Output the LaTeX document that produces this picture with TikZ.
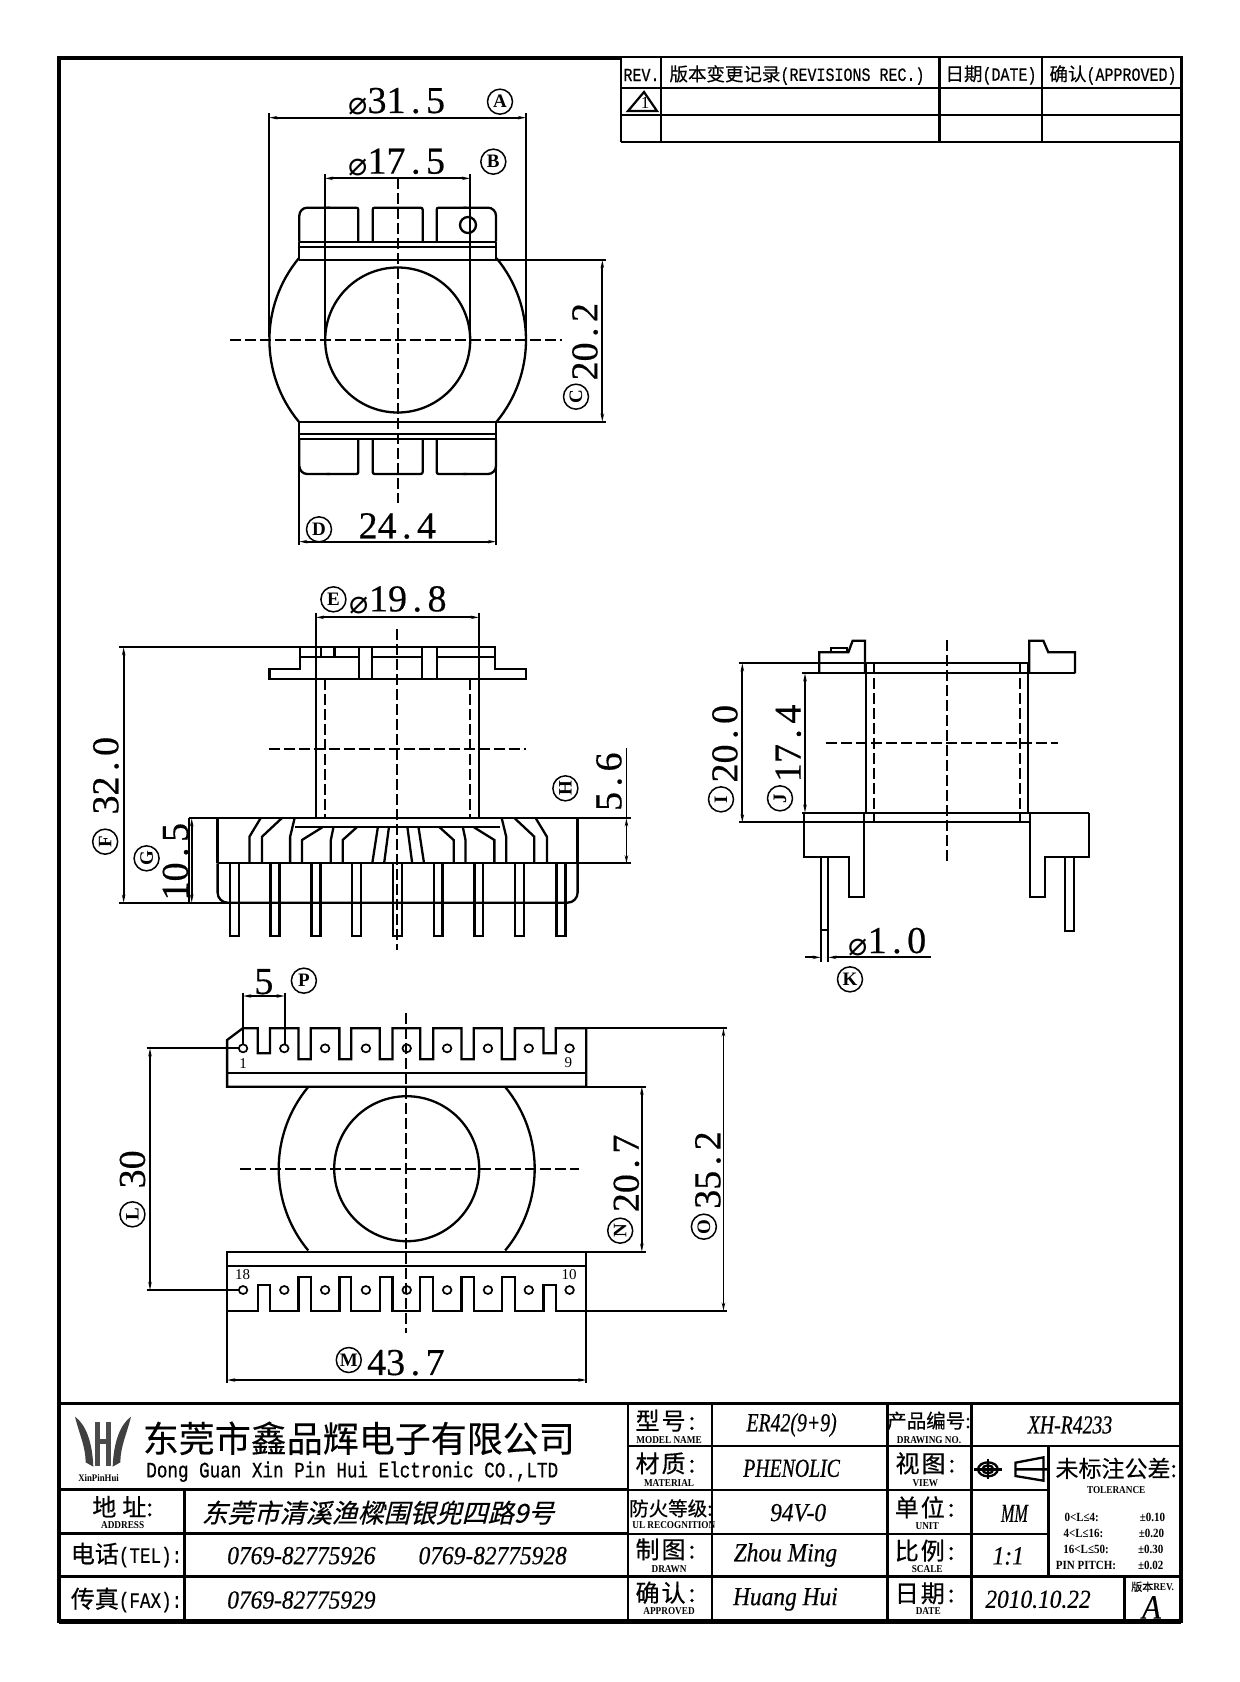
\documentclass[tikz,border=0pt]{standalone}
\usepackage{fontspec}
\usetikzlibrary{arrows.meta}
\setmainfont{Liberation Serif}
\newfontfamily\cjk[FakeBold=0.25]{Noto Sans CJK SC}
\newfontfamily\cjkb[FakeBold=0.5]{Noto Sans CJK SC}
\newfontfamily\cjks[FakeSlant=0.25,FakeBold=0.4]{Noto Sans CJK SC}
\newfontfamily\monof[FakeStretch=0.8,FakeBold=0.5]{Liberation Mono}
\newfontfamily\itf[FakeStretch=0.9,FakeBold=0.4,Ligatures=NoCommon]{Liberation Serif Italic}
\newfontfamily\itn[FakeStretch=0.76,FakeBold=0.5,Ligatures=NoCommon]{Liberation Serif Italic}
\newfontfamily\itm[FakeStretch=0.62,FakeBold=0.5,Ligatures=NoCommon]{Liberation Serif Italic}
\newfontfamily\smf[FakeStretch=0.88]{Liberation Serif Bold}
\newfontfamily\dimf[FakeBold=0.4]{Liberation Serif}
\newfontfamily\djf{DejaVu Sans}
\newcommand\fsz[1]{\fontsize{#1}{#1}\selectfont}
\newcommand\dt{\kern5.5pt.\kern5.5pt}
\newcommand\dia{{\djf\fsz{32}\raisebox{-2pt}{⌀}}}
\tikzset{
 ol/.style={line width=2.3pt},
 dl/.style={line width=1.7pt},
 dimline/.style={dl,{Stealth[length=8pt,width=3.4pt]}-{Stealth[length=8pt,width=3.4pt]}},
 cline/.style={line width=2pt,dash pattern=on 11pt off 4pt},
 dimtxt/.style={inner sep=0pt,font=\dimf\fsz{38}},
 circ/.style={circle,draw,line width=1.5pt,inner sep=0pt,minimum size=25pt,font=\fsz{19}\bfseries},
 tb/.style={line width=2.6pt},
 big/.style={inner sep=0pt,font=\cjkb\fsz{24}},
 sm/.style={inner sep=0pt,font=\smf\fsz{10.5}},
 val/.style={inner sep=0pt,font=\itf\fsz{26}},
 valn/.style={inner sep=0pt,font=\itn\fsz{26}},
 tol/.style={inner sep=0pt,font=\smf\fsz{12.5}},
}
\begin{document}
\begin{tikzpicture}[x=1pt,y=-1pt]
\fill[white] (0,0) rectangle (1240,1682);
\useasboundingbox (0,0) rectangle (1240,1682);
% frame
\draw[line width=3.4pt] (59,58) rectangle (1181,1621);
\draw[line width=5pt] (59,1621) -- (1181,1621);
% revision table
\fill[white] (621,56) rectangle (1181,142);
\draw[tb] (621,57) -- (1181,57) (621,88) -- (1181,88) (621,115) -- (1181,115) (621,142) -- (1181,142);
\draw[tb] (621,57) -- (621,142) (661,57) -- (661,142) (939.5,57) -- (939.5,142) (1042,57) -- (1042,142) (1181,57) -- (1181,142);
\node[inner sep=0pt,font=\monof\fsz{18.75}] (revh) at (641.5,75) {REV.};
\node[inner sep=0pt,font=\monof\fsz{18.75}] (revt) at (797,75) {{\cjk\fsz{18.5}版本变更记录}(REVISIONS REC.)};
\node[inner sep=0pt,font=\monof\fsz{18.75}] (revd) at (991,75) {{\cjk\fsz{18.5}日期}(DATE)};
\node[inner sep=0pt,font=\monof\fsz{18.75}] (reva) at (1113,75) {{\cjk\fsz{18.5}确认}(APPROVED)};
\draw[line width=2.2pt] (628,111) -- (644,92) -- (657,111) -- cycle;
\node[inner sep=0pt,font=\fsz{17}] (revn) at (645,103) {1};
% ---------- top view
\begin{scope}[shift={(240,70)},x=0.33333pt,y=-0.33333pt]
 \draw[ol] (178,570) -- (768,570) (178,1055) -- (768,1055);
 \draw[ol] (178,515) -- (768,515) (178,530) -- (768,530);
 \draw[ol] (178,1092) -- (768,1092) (178,1108) -- (768,1108);
 \draw[ol] (178,570) -- (178,515) (768,570) -- (768,515) (178,1055) -- (178,1108) (768,1055) -- (768,1108);
 % top tabs
 \draw[ol,rounded corners=8pt] (178,515) -- (178,413) -- (270,413);
 \draw[ol,rounded corners=2pt] (260,413) -- (355,413) -- (355,515);
 \draw[ol,rounded corners=2pt] (398,515) -- (398,413) -- (548,413) -- (548,515);
 \draw[ol,rounded corners=2pt] (590,515) -- (590,413) -- (680,413);
 \draw[ol,rounded corners=8pt] (670,413) -- (768,413) -- (768,515);
 % bottom tabs
 \draw[ol,rounded corners=8pt] (178,1108) -- (178,1212) -- (270,1212);
 \draw[ol,rounded corners=2pt] (260,1212) -- (355,1212) -- (355,1108);
 \draw[ol,rounded corners=2pt] (398,1108) -- (398,1212) -- (548,1212) -- (548,1108);
 \draw[ol,rounded corners=2pt] (590,1108) -- (590,1212) -- (680,1212);
 \draw[ol,rounded corners=8pt] (670,1212) -- (768,1212) -- (768,1108);
 \draw[ol] (684,465) circle[radius=24];
 % extension lines and dims
 \draw[dl] (88,130) -- (88,800) (858,130) -- (858,800);
 \draw[dimline] (88,143) -- (858,143);
 \draw[dl] (255,313) -- (255,800) (690,313) -- (690,800);
 \draw[dimline] (255,325) -- (690,325);
 \draw[dl] (768,570) -- (1098,570) (768,1055) -- (1098,1055);
 \draw[dimline] (1087,570) -- (1087,1055);
 \draw[dl] (178,1108) -- (178,1425) (768,1108) -- (768,1425);
 \draw[dimline] (178,1415) -- (768,1415);
 \draw[cline] (-30,810) -- (965,810);
 \draw[cline] (473,325) -- (473,1298);
 \node[dimtxt] (ta) at (470,95) {\dia 31\dt 5};
 \node[circ] (ca) at (780,95) {A};
 \node[dimtxt] (tb) at (470,277) {\dia 17\dt 5};
 \node[circ] (cb) at (760,275) {B};
 \node[dimtxt,rotate=90] (tc) at (1035,815) {20\dt 2};
 \node[circ,rotate=90] (cc) at (1008,980) {C};
 \node[dimtxt] (td) at (472,1368) {24\dt 4};
 \node[circ] (cd) at (237,1378) {D};
\end{scope}
\draw[ol] ([shift={(-39.6:128.3)}]397.7,340) arc[start angle=-39.6,end angle=39.6,radius=128.3];
\draw[ol] ([shift={(140.4:128.3)}]397.7,340) arc[start angle=140.4,end angle=219.6,radius=128.3];
\draw[ol] (397.7,340) circle[radius=72.5];
% ---------- front view
\begin{scope}[shift={(80,570)},x=0.36996pt,y=-0.33333pt]
 \draw[ol] (595,297) -- (595,232) -- (1122,232) -- (1122,297) -- (1205,297) -- (1205,328) -- (512,328) -- (512,297) -- cycle;
 \draw[ol] (595,262) -- (755,262) (790,262) -- (925,262) (965,262) -- (1122,262);
 \draw[ol] (755,232) -- (755,328) (790,232) -- (790,328) (925,232) -- (925,328) (965,232) -- (965,328);
 \draw[ol] (652,232) -- (652,262) (688,232) -- (688,262);
 \draw[ol] (638,128) -- (638,745) (1078,128) -- (1078,745);
 \draw[dimline] (638,142) -- (1078,142);
 \draw[cline] (663,328) -- (663,745) (1055,328) -- (1055,745);
 % base
 \draw[ol] (295,745) -- (1488,745);
 \draw[ol] (372,745) -- (372,880) (1345,745) -- (1345,880);
 \draw[ol] (372,880) -- (1488,880);
 \draw[dl] (105,232) -- (595,232) (105,998) -- (400,998);
 \draw[ol] (580,770) -- (1135,770);
 \foreach \a/\b/\c in {488/458/458,545/492/492,580/568/568}{
  \draw[ol] (\a,745) -- (\b,800) -- (\c,880);
  \draw[ol] (1720-\a,745) -- (1720-\b,800) -- (1720-\c,880);
 }
 \foreach \a/\b in {655/600,685/678,748/710}{
  \draw[ol] (\a,772) -- (\b,810) -- (\b,880);
  \draw[ol] (1720-\a,772) -- (1720-\b,810) -- (1720-\b,880);
 }
 \foreach \a/\b in {805/790,835/822}{
  \draw[ol] (\a,772) -- (\b,880);
  \draw[ol] (1720-\a,772) -- (1720-\b,880);
 }
 \draw[ol,rounded corners=10pt] (372,880) -- (372,998) -- (1345,998) -- (1345,880);
 \foreach \p in {417,527,638,748,858,968,1078,1188,1300}{
  \draw[ol] (\p-12,880) -- (\p-12,1098) -- (\p+12,1098) -- (\p+12,880);
 }
 \draw[dimline] (118,232) -- (118,998);
 \draw[dl] (295,745) -- (295,998);
 \draw[dimline] (302,745) -- (302,998);
 \draw[dimline] (1477,745) -- (1477,880);
 \draw[dl] (1477,535) -- (1477,745);
 \draw[cline] (858,178) -- (858,1140);
 \draw[cline] (510,537) -- (1205,537);
 \node[dimtxt] (te) at (860,90) {\dia 19\dt 8};
 \node[circ] (ce) at (685,88) {E};
 \node[dimtxt,rotate=90] (tf) at (70,617) {32\dt 0};
 \node[circ,rotate=90] (cf) at (68,815) {F};
 \node[dimtxt,rotate=90] (tg) at (258,875) {10\dt 5};
 \node[circ,rotate=90] (cg) at (180,865) {G};
 \node[dimtxt,rotate=90] (th) at (1430,635) {5\dt 6};
 \node[circ,rotate=90] (ch) at (1312,655) {H};
\end{scope}
% ---------- side view
\begin{scope}[shift={(690,620)},x=0.33333pt,y=-0.33333pt]
 \draw[ol] (148,130) -- (1018,130) (335,160) -- (1155,160) (335,578) -- (1198,578) (148,607) -- (1020,607);
 \draw[ol] (388,160) -- (388,97) -- (475,97) -- (488,62) -- (525,62) -- (525,160);
 \draw[ol] (422,97) -- (422,85) -- (470,85) -- (470,97);
 \draw[ol] (1018,160) -- (1018,62) -- (1060,62) -- (1075,97) -- (1155,97) -- (1155,160);
 \draw[ol] (527,130) -- (527,578) (1015,130) -- (1015,578);
 \draw[cline] (553,130) -- (553,607) (990,130) -- (990,607);
 \draw[cline] (770,60) -- (770,735);
 \draw[cline] (408,368) -- (1105,368);
 \draw[ol] (343,578) -- (343,712) -- (478,712) -- (478,832) -- (522,832) -- (522,578);
 \draw[ol] (1020,578) -- (1020,832) -- (1066,832) -- (1066,712) -- (1198,712) -- (1198,578);
 \draw[ol] (392,712) -- (392,1025) (415,712) -- (415,1025) (392,930) -- (415,930);
 \draw[ol] (1125,712) -- (1125,932) -- (1152,932) -- (1152,712);
 \draw[dimline] (157,130) -- (157,607);
 \draw[dimline] (345,160) -- (345,578);
 \draw[dl,-{Stealth[length=8pt,width=3.4pt]}] (345,1012) -- (392,1012);
 \draw[dl,{Stealth[length=8pt,width=3.4pt]}-] (415,1012) -- (722,1012);
 \node[dimtxt] (tk) at (592,965) {\dia 1\dt 0};
 \node[circ] (ck) at (480,1078) {K};
 \node[dimtxt,rotate=90] (ti) at (105,371) {20\dt 0};
 \node[circ,rotate=90] (ci) at (93,538) {I};
 \node[dimtxt,rotate=90] (tj) at (295,370) {17\dt 4};
 \node[circ,rotate=90] (cj) at (270,535) {J};
\end{scope}
% ---------- bottom view
\draw[ol] ([shift={(-39.7:128)}]406.7,1168.7) arc[start angle=-39.7,end angle=39.7,radius=128];
\draw[ol] ([shift={(140.3:128)}]406.7,1168.7) arc[start angle=140.3,end angle=219.7,radius=128];
\draw[ol] (406.7,1168.7) circle[radius=72.5];
\begin{scope}[shift={(110,960)},x=0.40816pt,y=-0.33333pt]
 \draw[ol] (287,380) -- (287,240) -- (325,205) -- (362,205) -- (362,280) -- (392,280) -- (392,205)
  -- (462,205) -- (462,298) -- (492,298) -- (492,205) -- (562,205) -- (562,298) -- (591,298) -- (591,205)
  -- (661,205) -- (661,298) -- (692,298) -- (692,205) -- (760,205) -- (760,298) -- (792,298) -- (792,205)
  -- (861,205) -- (861,298) -- (891,298) -- (891,205) -- (960,205) -- (960,298) -- (992,298) -- (992,205)
  -- (1062,205) -- (1062,280) -- (1092,280) -- (1092,205) -- (1167,205) -- (1167,380) -- cycle;
 \draw[ol] (287,338) -- (1167,338);
 \draw[ol] (287,875) -- (287,1052) -- (362,1052) -- (362,975) -- (392,975) -- (392,1052)
  -- (462,1052) -- (462,952) -- (492,952) -- (492,1052) -- (562,1052) -- (562,952) -- (591,952) -- (591,1052)
  -- (661,1052) -- (661,952) -- (692,952) -- (692,1052) -- (760,1052) -- (760,952) -- (792,952) -- (792,1052)
  -- (861,1052) -- (861,952) -- (891,952) -- (891,1052) -- (960,1052) -- (960,952) -- (992,952) -- (992,1052)
  -- (1062,1052) -- (1062,975) -- (1092,975) -- (1092,1052) -- (1167,1052) -- (1167,875) -- cycle;
 \draw[ol] (287,917) -- (1167,917);
 \foreach \p in {326,427,527,627,727,826,926,1026,1126}{
  \draw[line width=1.7pt] (\p,265) ellipse[x radius=10.5,y radius=12];
  \draw[line width=1.7pt] (\p,990) ellipse[x radius=10.5,y radius=12];
 }
 \node[inner sep=0pt,font=\fsz{15}] (n1) at (326,310) {1};
 \node[inner sep=0pt,font=\fsz{15}] (n9) at (1123,308) {9};
 \node[inner sep=0pt,font=\fsz{15}] (n18) at (325,945) {18};
 \node[inner sep=0pt,font=\fsz{15}] (n10) at (1125,943) {10};
 \draw[cline] (725,158) -- (725,1120);
 \draw[cline] (318,626) -- (1150,626);
 % dims
 \draw[dl] (326,98) -- (326,254) (428,98) -- (428,254);
 \draw[dimline] (326,108) -- (428,108);
 \draw[dl] (90,265) -- (315,265) (90,990) -- (315,990);
 \draw[dimline] (98,265) -- (98,990);
 \draw[dl] (1167,380) -- (1312,380) (1167,875) -- (1312,875);
 \draw[dimline] (1303,380) -- (1303,875);
 \draw[dl] (1167,205) -- (1512,205) (1167,1052) -- (1512,1052);
 \draw[dimline] (1503,205) -- (1503,1052);
 \draw[dl] (287,1052) -- (287,1270) (1167,1052) -- (1167,1270);
 \draw[dimline] (287,1260) -- (1167,1260);
 \node[dimtxt] (tp) at (377,65) {5};
 \node[circ] (cp) at (475,62) {P};
 \node[dimtxt,rotate=90] (tl) at (55,628) {30};
 \node[circ,rotate=90] (cl) at (55,763) {L};
 \node[dimtxt,rotate=90] (tn) at (1265,640) {20\dt 7};
 \node[circ,rotate=90] (cn) at (1250,812) {N};
 \node[dimtxt,rotate=90] (to) at (1465,630) {35\dt 2};
 \node[circ,rotate=90] (co) at (1455,800) {O};
 \node[dimtxt] (tm) at (725,1208) {43\dt 7};
 \node[circ] (cm) at (585,1200) {M};
\end{scope}
% ---------- logo
\begin{scope}[shift={(65,1405)},x=0.33333pt,y=-0.33333pt]
 \fill[black!75] (30,35) .. controls (62,58) and (82,110) .. (85,185) -- (62,172) .. controls (62,125) and (42,85) .. cycle;
 \fill[black!75] (198,35) .. controls (166,58) and (146,110) .. (143,185) -- (166,172) .. controls (166,125) and (186,85) .. cycle;
 \fill[black!70] (90,50) rectangle (105,182);
 \fill[black!70] (122,50) rectangle (137,182);
 \fill[black!70] (105,102) rectangle (122,116);
\end{scope}
% ---------- title block left
\begin{scope}[shift={(50,1390)},x=0.38265pt,y=-0.33333pt]
 \draw[tb] (22,40) -- (1512,40);
 \draw[tb] (22,298) -- (1512,298) (22,430) -- (1512,430) (22,560) -- (1512,560);
 \draw[tb] (352,298) -- (352,690);
 \node[inner sep=0pt,font=\cjk\fsz{36}] (co1) at (807,145) {东莞市鑫品辉电子有限公司};
 \node[inner sep=0pt,font=\monof\fsz{22}] (co2) at (790,245) {Dong Guan Xin Pin Hui Elctronic CO.,LTD};
 \node[big] (addr) at (190,350) {地\kern6pt 址:};
 \node[sm] (addre) at (190,405) {ADDRESS};
 \node[inner sep=0pt,font=\cjks\fsz{26}] (addrv) at (857,368) {东莞市清溪渔樑围银兜四路9号};
 \node[inner sep=0pt,font=\monof\fsz{22}] (tel) at (200,495) {{\cjkb\fsz{24}电话}(TEL):};
 \node[inner sep=0pt,font=\monof\fsz{22}] (fax) at (200,630) {{\cjkb\fsz{24}传真}(FAX):};
 \node[val] (t1) at (657,497) {0769-82775926};
 \node[val] (t2) at (1157,497) {0769-82775928};
 \node[val] (t3) at (657,630) {0769-82775929};
\end{scope}
% ---------- title block right
\begin{scope}[shift={(620,1390)},x=0.36352pt,y=-0.33333pt]
 \draw[tb] (22,40) -- (1538,40);
 \draw[tb] (22,40) -- (22,690) (253,40) -- (253,690) (735,40) -- (735,690) (967,40) -- (967,690);
 \draw[tb] (22,168) -- (1538,168) (22,300) -- (1178,300) (22,432) -- (1178,432) (22,560) -- (1538,560);
 \draw[tb] (1178,168) -- (1178,560) (1388,560) -- (1388,690);
 \node[big] (a1) at (125,92) {型\kern2pt 号\kern3pt :};
 \node[sm] (a1e) at (135,150) {MODEL NAME};
 \node[valn] (a1v) at (472,105) {ER42(9+9)};
 \node[big,font=\cjkb\fsz{19.5}] (b1) at (850,92) {产品编号:};
 \node[sm] (b1e) at (850,150) {DRAWING NO.};
 \node[valn] (b1v) at (1238,105) {XH-R4233};
 \node[big] (a2) at (125,220) {材\kern2pt 质\kern3pt :};
 \node[sm] (a2e) at (135,278) {MATERIAL};
 \node[valn] (a2v) at (472,235) {PHENOLIC};
 \node[big] (b2) at (840,220) {视\kern2pt 图\kern3pt :};
 \node[sm] (b2e) at (840,278) {VIEW};
 \draw[ol] (1012,238) ellipse[x radius=27,y radius=21];
 \draw[ol] (1012,238) ellipse[x radius=15,y radius=12];
 \draw[ol] (975,238) -- (1050,238) (1012,208) -- (1012,268);
 \draw[ol] (1088,218) -- (1165,202) -- (1165,272) -- (1088,258) -- cycle (1088,238) -- (1180,238);
 \node[inner sep=0pt,font=\cjk\fsz{23}] (c2) at (1365,235) {未标注公差:};
 \node[sm] (c2e) at (1365,300) {TOLERANCE};
 \node[big,font=\cjkb\fsz{19.5}] (a3) at (140,355) {防火等级:};
 \node[sm] (a3e) at (148,405) {UL RECOGNITION};
 \node[val] (a3v) at (490,368) {94V-0};
 \node[big] (b3) at (838,352) {单\kern2pt 位\kern3pt :};
 \node[sm] (b3e) at (845,407) {UNIT};
 \node[inner sep=0pt,font=\itm\fsz{26}] (b3v) at (1085,370) {MM};
 \node[big] (a4) at (125,478) {制\kern2pt 图\kern3pt :};
 \node[sm] (a4e) at (135,537) {DRAWN};
 \node[val] (a4v) at (455,495) {Zhou Ming};
 \node[big] (b4) at (838,482) {比\kern2pt 例\kern3pt :};
 \node[sm] (b4e) at (845,537) {SCALE};
 \node[val] (b4v) at (1068,498) {1:1};
 \node[tol] (r1) at (1270,382) {0<L≤4:};
 \node[tol] (r2) at (1275,430) {4<L≤16:};
 \node[tol] (r3) at (1282,478) {16<L≤50:};
 \node[tol] (r4) at (1282,525) {PIN PITCH:};
 \node[tol] (v1) at (1465,382) {±0.10};
 \node[tol] (v2) at (1462,430) {±0.20};
 \node[tol] (v3) at (1460,478) {±0.30};
 \node[tol] (v4) at (1460,525) {±0.02};
 \node[big] (a5) at (125,608) {确\kern2pt 认\kern3pt :};
 \node[sm] (a5e) at (135,664) {APPROVED};
 \node[val] (a5v) at (455,628) {Huang Hui};
 \node[big] (b5) at (838,610) {日\kern2pt 期\kern3pt :};
 \node[sm] (b5e) at (848,664) {DATE};
 \node[val] (b5v) at (1150,628) {2010.10.22};
 \node[sm,font=\smf\fsz{10.5}] (rv) at (1465,590) {{\cjkb\fsz{11}版本}REV.};
 \node[val,font=\itf\fsz{34}] (rva) at (1462,652) {A};
\end{scope}
\node[inner sep=0pt,font=\smf\fsz{10}] (co3) at (98.6,1478) {XinPinHui};
\end{tikzpicture}
\end{document}
